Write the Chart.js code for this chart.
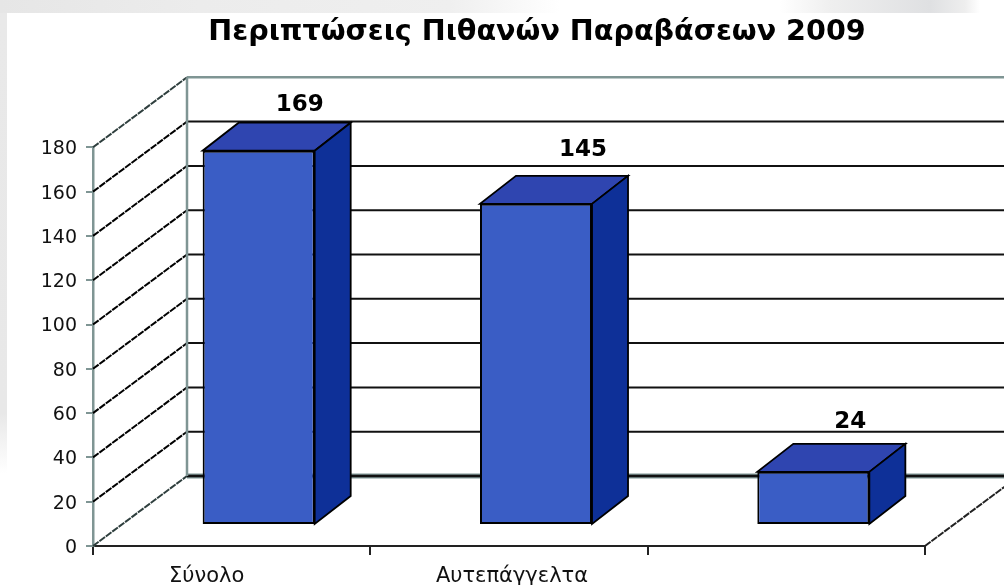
<!DOCTYPE html>
<html lang="el">
<head>
<meta charset="utf-8">
<style>
html,body{margin:0;padding:0;background:#fff;overflow:hidden}
#wrap{position:relative;width:1004px;height:585px;overflow:hidden}
#top{position:absolute;left:0;top:0;width:1004px;height:13px;background:linear-gradient(90deg,#e6e6e6 0,#ececec 200px,#efefef 450px,#fff 560px,#fff 780px,#efefef 830px,#dfe0e2 930px,#eeeeee 965px,#fff 980px)}
#left{position:absolute;left:0;top:13px;width:7px;height:460px;background:linear-gradient(180deg,#e9e9e9 0,#e8e8e8 400px,#fff 460px)}
canvas{position:absolute;left:0;top:0;filter:blur(.6px)}
</style>
<script src="https://cdn.jsdelivr.net/npm/chart.js@4/dist/chart.umd.min.js"></script>
</head>
<body>
<div id="wrap"><div id="top"></div><div id="left"></div><canvas id="c" width="1004" height="585"></canvas></div>
<script>
const categories = ["Σύνολο", "Αυτεπάγγελτα", ""];
const values = [169, 145, 24];
const chartTitle = "Περιπτώσεις Πιθανών Παραβάσεων 2009";
const yMin = 0, yMax = 180, yStep = 20;

const wall = {dx: 94, dy: -70};
const barFront = {dx: 27, dy: -21};
const barDepth = {dx: 36, dy: -28};
const labelNudge = [[5, -18], [11, -26], [1, -22]];
const xLabelNudge = [-25, 3, 0];
const yLabelNudge = 2;
const colors = {front: "#3a5dc5", top: "#2f45b0", side: "#0e3098", axis: "#7f9594", ink: "#000"};

function line(ctx, x1, y1, x2, y2, color, w, dash) {
  ctx.beginPath(); ctx.moveTo(x1, y1); ctx.lineTo(x2, y2);
  ctx.setLineDash(dash || []);
  ctx.strokeStyle = color; ctx.lineWidth = w; ctx.stroke();
  ctx.setLineDash([]);
}
function poly(ctx, pts, fill) {
  ctx.beginPath(); pts.forEach((p, i) => i ? ctx.lineTo(p[0], p[1]) : ctx.moveTo(p[0], p[1]));
  ctx.closePath(); ctx.fillStyle = fill; ctx.fill();
  ctx.strokeStyle = colors.ink; ctx.lineWidth = 1.8; ctx.stroke();
}
const jag = [7, 1];

const depth3d = {
  id: "depth3d",
  beforeDraw(chart) {
    chart.titleBlock.left = 70; chart.titleBlock.right = 1004;
    chart.scales.x.getLabelItems().forEach((it, i) => {
      if (!it.__moved) { it.options.translation[0] += xLabelNudge[i] || 0; it.__moved = true; }
    });
    chart.scales.y.getLabelItems().forEach(it => {
      if (!it.__moved) { it.options.translation[1] += yLabelNudge; it.__moved = true; }
    });
  },
  beforeDatasetsDraw(chart) {
    const {ctx, scales: {y}, chartArea: a} = chart;
    ctx.save();
    y.ticks.forEach(t => {
      const py = y.getPixelForValue(t.value);
      const isEdge = t.value === yMax;
      const isFloor = t.value === yMin;
      line(ctx, a.left, py, a.left + wall.dx, py + wall.dy, isEdge || isFloor ? "#2f3f3e" : colors.ink, 2, jag);
      if (!isFloor) line(ctx, a.left + wall.dx, py + wall.dy, 1004, py + wall.dy, isEdge ? colors.axis : "#111", isEdge ? 2.5 : 2);
    });
    const fy = y.getPixelForValue(yMin);
    line(ctx, a.left + wall.dx, fy + wall.dy, 1004, fy + wall.dy, colors.axis, 5);
    line(ctx, a.left + wall.dx, fy + wall.dy, 1004, fy + wall.dy, "#111", 2.5);
    line(ctx, a.left + wall.dx, y.getPixelForValue(yMax) + wall.dy, a.left + wall.dx, fy + wall.dy, colors.axis, 2.5);
    line(ctx, a.right, fy, a.right + wall.dx, fy + wall.dy, "#222", 2, jag);
    ctx.restore();
  },
  beforeDatasetDraw(chart, args) {
    const {ctx} = chart;
    ctx.save();
    args.meta.data.forEach(b => {
      const p = b.getProps(["x", "y", "base", "width"], true);
      const l = p.x - p.width / 2 + barFront.dx, r = p.x + p.width / 2 + barFront.dx;
      const t = p.y + barFront.dy, bt = p.base + barFront.dy;
      const d = barDepth;
      poly(ctx, [[l, t], [r, t], [r + d.dx, t + d.dy], [l + d.dx, t + d.dy]], colors.top);
      poly(ctx, [[r, t], [r + d.dx, t + d.dy], [r + d.dx, bt + d.dy], [r, bt]], colors.side);
    });
    ctx.restore();
    ctx.save();
    ctx.translate(barFront.dx, barFront.dy);
  },
  afterDatasetDraw(chart) { chart.ctx.restore(); },
  afterDatasetsDraw(chart) {
    const {ctx} = chart;
    const meta = chart.getDatasetMeta(0);
    ctx.save();
    ctx.font = "bold 23px 'DejaVu Sans'";
    ctx.fillStyle = colors.ink; ctx.textAlign = "center"; ctx.textBaseline = "middle";
    meta.data.forEach((b, i) => {
      const p = b.getProps(["x", "y"], true);
      ctx.fillText(String(values[i]),
        p.x + barFront.dx + barDepth.dx + labelNudge[i][0],
        p.y + barFront.dy + barDepth.dy + labelNudge[i][1]);
    });
    ctx.restore();
  }
};

new Chart(document.getElementById("c"), {
  type: "bar",
  data: {labels: categories, datasets: [{
    data: values, backgroundColor: colors.front, borderColor: colors.ink,
    borderWidth: 2, borderSkipped: false, barPercentage: 0.404, categoryPercentage: 1
  }]},
  plugins: [depth3d],
  options: {
    responsive: false, animation: false,
    layout: {padding: {left: 0, right: 79, top: 0, bottom: 0}},
    plugins: {
      legend: {display: false}, tooltip: {enabled: false},
      title: {display: true, text: chartTitle, color: "#000",
        font: {family: "'DejaVu Sans'", size: 28.6, weight: "bold"},
        padding: {top: 15, bottom: 98}, fullSize: true}
    },
    scales: {
      x: {
        afterFit(s) { s.height = 39; },
        grid: {drawOnChartArea: false, drawTicks: true, tickLength: 9, color: "#222", lineWidth: 2, offset: true},
        border: {color: "#222", width: 2},
        ticks: {color: "#111", padding: 9, maxRotation: 0, font: {family: "'DejaVu Sans'", size: 21}}
      },
      y: {
        min: yMin, max: yMax,
        afterFit(s) { s.width = 93; },
        grid: {drawOnChartArea: false, drawTicks: true, tickLength: 7, color: colors.axis, lineWidth: 2},
        border: {color: colors.axis, width: 2.5},
        ticks: {stepSize: yStep, color: "#111", padding: 9, font: {family: "'DejaVu Sans'", size: 19}}
      }
    }
  }
});
</script>
</body>
</html>
